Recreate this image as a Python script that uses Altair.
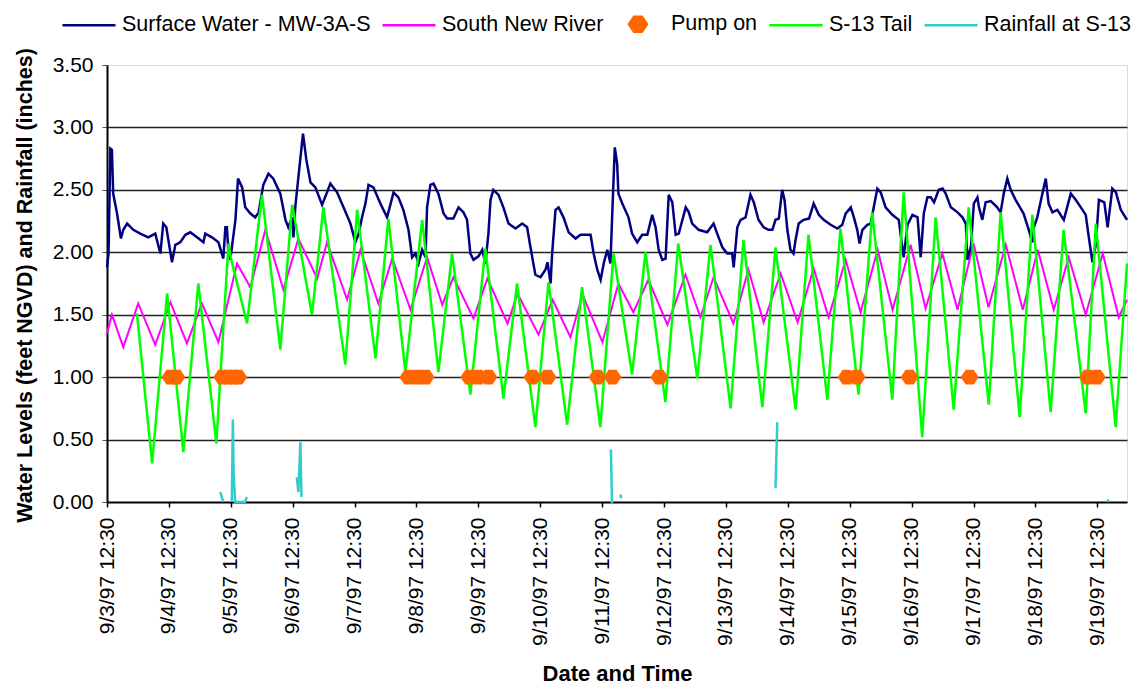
import altair as alt
import pandas as pd

START = pd.Timestamp("1997-09-03 12:30")

SERIES = ["Surface Water - MW-3A-S", "South New River", "Pump on", "S-13 Tail", "Rainfall at S-13"]
COLORS = ["#000080", "#FF00FF", "#FF6600", "#00FF00", "#33CCCC"]

# hours after 9/3/97 12:30
SW_H = [0.0, 0.6, 1.3, 1.9, 2.4, 3.9, 5.4, 6.3, 7.8, 10.2, 12.9, 16.0, 18.7, 20.7, 21.8, 23.0, 25.2, 26.5, 28.4,
        30.4, 32.3, 34.9, 37.4, 38.1, 40.7, 43.2, 45.1, 45.9, 46.5, 47.1, 47.8, 49.8, 50.8, 52.4, 53.6, 55.6, 57.5,
        58.8, 60.6, 62.6, 64.5, 67.2, 69.2, 70.3, 71.8, 72.3, 73.0, 74.2, 76.0, 77.3, 78.9, 80.8, 83.4, 85.3, 86.6,
        89.2, 91.7, 94.4, 96.3, 97.6, 98.9, 100.2, 101.4, 103.3, 106.0, 108.6, 111.1, 113.0, 114.9, 116.9, 118.3,
        119.6, 120.8, 122.2, 123.5, 124.1, 125.4, 126.6, 128.5, 130.5, 131.9, 134.3, 136.3, 138.2, 139.6, 140.9,
        142.1, 144.1, 145.5, 146.7, 147.9, 148.7, 149.8, 151.8, 153.7, 155.7, 158.4, 161.0, 162.9, 164.2, 166.1,
        168.1, 170.0, 170.8, 172.0, 172.6, 173.9, 175.1, 177.0, 179.0, 181.7, 183.6, 187.5, 188.7, 190.1, 191.4,
        192.7, 194.0, 195.2, 196.3, 196.9, 197.8, 198.3, 199.8, 202.2, 203.6, 205.6, 207.5, 209.5, 211.4, 212.7,
        213.9, 215.3, 216.6, 217.8, 219.2, 220.5, 221.7, 224.4, 225.6, 226.9, 229.4, 232.7, 235.2, 236.6, 238.6,
        240.5, 242.4, 243.0, 244.4, 245.7, 247.6, 249.5, 250.8, 252.6, 254.6, 256.5, 258.0, 259.2, 260.5, 261.8,
        262.7, 263.8, 265.0, 266.2, 267.0, 268.2, 270.1, 272.2, 274.0, 276.0, 277.9, 280.6, 283.2, 285.1, 286.4,
        288.4, 289.6, 290.9, 291.8, 292.9, 294.8, 296.1, 297.3, 298.7, 300.0, 301.9, 304.5, 307.0, 308.9, 310.4,
        312.3, 314.3, 315.5, 316.7, 318.1, 319.4, 320.7, 322.5, 324.0, 325.2, 327.2, 329.8, 331.7, 333.0, 333.6,
        335.0, 336.1, 337.5, 338.1, 339.4, 340.7, 342.7, 345.2, 346.5, 347.7, 349.1, 350.4, 352.3, 355.4, 357.4,
        358.8, 359.4, 360.7, 362.7, 364.0, 365.1, 366.6, 368.5, 371.0, 373.7, 375.6, 377.6, 379.5, 380.7, 382.1,
        383.4, 384.6, 386.7, 388.0, 389.8, 391.2, 393.1, 395.5]
SW_V = [1.88, 1.99, 2.83, 2.82, 2.47, 2.31, 2.11, 2.18, 2.23, 2.18, 2.15, 2.12, 2.15, 1.99, 2.23, 2.20, 1.92, 2.06, 2.08,
        2.14, 2.16, 2.12, 2.08, 2.15, 2.12, 2.08, 1.95, 2.20, 2.20, 1.99, 1.94, 2.26, 2.59, 2.52, 2.36, 2.31, 2.28,
        2.32, 2.54, 2.63, 2.59, 2.47, 2.26, 2.20, 2.28, 2.12, 2.36, 2.60, 2.95, 2.74, 2.56, 2.52, 2.38, 2.48, 2.55,
        2.48, 2.36, 2.23, 2.08, 2.15, 2.28, 2.39, 2.54, 2.52, 2.39, 2.28, 2.48, 2.44, 2.34, 2.18, 1.96,
        1.99, 1.91, 2.02, 1.96, 2.36, 2.54, 2.55, 2.47, 2.31, 2.27, 2.27, 2.36, 2.32, 2.26, 1.99,
        1.94, 1.97, 2.02, 1.91, 2.15, 2.42, 2.50, 2.46, 2.36, 2.23, 2.19, 2.23, 2.20, 2.04, 1.82,
        1.80, 1.86, 1.92, 1.75, 1.99, 2.34, 2.36, 2.28, 2.16, 2.11, 2.14, 2.14, 1.99, 1.86, 1.78,
        1.92, 2.02, 1.91, 2.52, 2.84, 2.71, 2.47, 2.39, 2.28, 2.15, 2.08, 2.14, 2.14, 2.30, 2.20,
        2.02, 1.94, 1.95, 2.46, 2.40, 2.14, 2.15, 2.36, 2.32, 2.23, 2.18, 2.16, 2.23, 2.15, 2.04,
        1.99, 1.99, 1.88, 2.20, 2.26, 2.28, 2.46, 2.40, 2.26, 2.20, 2.18, 2.18, 2.26, 2.27, 2.50,
        2.42, 2.18, 2.02, 1.99, 2.10, 2.23, 2.26, 2.27, 2.39, 2.30, 2.26, 2.22, 2.19, 2.22, 2.31,
        2.36, 2.28, 2.18, 2.07, 2.18, 2.22, 2.23, 2.36, 2.51, 2.48, 2.36, 2.30, 2.26, 1.96, 2.22,
        2.30, 2.28, 1.96, 2.31, 2.44, 2.44, 2.40, 2.50, 2.51, 2.47, 2.36, 2.32, 2.28, 2.23, 1.94,
        2.05, 2.39, 2.44, 2.36, 2.26, 2.40, 2.41, 2.36, 2.32, 2.47, 2.59, 2.50, 2.42, 2.31, 2.18,
        2.08, 2.20, 2.28, 2.47, 2.59, 2.39, 2.32, 2.34, 2.26, 2.47, 2.42, 2.36, 2.30, 2.12, 1.92,
        2.06, 2.42, 2.40, 2.20, 2.51, 2.48, 2.34, 2.26]

SNR_H = [0.0, 1.9, 6.3, 12.1, 18.7, 24.6, 31.0, 36.8, 43.2, 50.4, 55.6, 61.4, 68.4, 74.2, 81.5, 85.3, 93.1, 98.3,
         105.2, 110.6, 117.7, 124.1, 130.0, 134.3, 142.1, 147.5, 155.3, 159.2, 167.3, 172.8, 179.7, 184.4, 192.1,
         198.3, 204.1, 209.9, 217.3, 224.3, 230.1, 235.2, 242.9, 248.7, 254.6, 261.2, 267.8, 274.0, 279.8, 286.4,
         292.2, 298.8, 304.6, 311.6, 317.4, 323.9, 329.8, 336.0, 341.8, 348.5, 355.1, 360.9, 367.1, 372.9, 379.5,
         386.1, 392.3, 395.5]
SNR_V = [1.35, 1.50, 1.24, 1.59, 1.26, 1.60, 1.27, 1.59, 1.28, 1.91, 1.72, 2.18, 1.70, 2.11, 1.79, 2.08, 1.62, 2.02,
         1.59, 1.95, 1.54, 1.96, 1.58, 1.80, 1.47, 1.79, 1.43, 1.67, 1.34, 1.62, 1.32, 1.66, 1.28,
         1.75, 1.52, 1.78, 1.42, 1.82, 1.48, 1.80, 1.43, 1.86, 1.44, 1.83, 1.44, 1.87, 1.48, 1.94,
         1.52, 2.02, 1.54, 2.06, 1.55, 1.99, 1.54, 2.07, 1.56, 2.06, 1.54, 2.02, 1.54, 1.96, 1.50,
         1.99, 1.48, 1.62]

S13_H = [11.6, 17.5, 23.3, 29.6, 35.4, 42.4, 47.1, 48.2, 54.3, 60.1, 67.2, 71.8, 79.5, 83.9, 92.4, 97.0, 104.1,
         109.1, 115.7, 122.2, 128.5, 133.8, 140.9, 146.7, 153.7, 159.0, 166.1, 171.2, 178.4, 184.2, 191.3, 196.4,
         203.6, 208.8, 216.5, 221.5, 228.9, 234.0, 241.8, 246.8, 254.1, 259.2, 267.0, 272.0, 279.3, 284.4, 291.4,
         296.7, 304.5, 308.9, 316.1, 321.3, 328.3, 334.1, 341.9, 346.5, 353.9, 358.8, 365.9, 370.9, 379.5, 383.4,
         391.1, 395.5]
S13_V = [1.51, 0.31, 1.67, 0.40, 1.75, 0.47, 2.07, 1.94, 1.43, 2.46, 1.22, 2.38, 1.50, 2.36, 1.10, 2.34, 1.15,
         2.27, 1.04, 2.26, 1.04, 1.99, 0.86, 2.03, 0.83, 1.75, 0.60, 1.76, 0.62, 1.72, 0.60, 1.99,
         1.02, 2.00, 0.80, 2.07, 0.99, 2.06, 0.75, 2.10, 0.76, 2.04, 0.74, 2.14, 0.82, 2.19, 0.86,
         2.32, 0.82, 2.48, 0.52, 2.28, 0.74, 2.36, 0.78, 2.32, 0.68, 2.30, 0.72, 2.18, 0.71, 2.23,
         0.60, 1.91]

PUMP_H = [24.6, 26.9, 44.7, 47.1, 49.0, 50.9, 116.9, 120.4, 123.5, 140.5, 144.0, 147.9, 165.0, 170.8, 190.2,
          196.0, 214.2, 286.8, 290.7, 311.2, 334.5, 380.3, 383.8]
PUMP_V = [1.0] * len(PUMP_H)

RAIN_H = [43.9, 45.1, 48.4, 48.8, 49.1, 49.7, 53.5, 54.2, 73.6, 74.2, 75.0, 75.4, 195.4, 195.8, 196.4, 199.1,
          199.3, 259.2, 259.9, 387.9, 388.4]
RAIN_V = [0.08, 0.00, 0.00, 0.66, 0.23, 0.00, 0.00, 0.04, 0.20, 0.08, 0.48, 0.04, 0.42, 0.00, 0.01, 0.06,
          0.03, 0.11, 0.64, 0.02, 0.00]
RAIN_SEG = [1, 1, 2, 2, 2, 2, 2, 2, 3, 3, 3, 3, 4, 4, 4, 5, 5, 6, 6, 7, 7]

TICK_DAYS = [3, 4, 5, 6, 7, 8, 9, 10, 11, 12, 13, 14, 15, 16, 17, 18, 19]


def frame(hours, values, name, seg=None):
    df = pd.DataFrame({"t": [START + pd.Timedelta(hours=h) for h in hours], "v": values})
    df["series"] = name
    df["seg"] = seg if seg is not None else [0] * len(hours)
    return df


FONT = "Liberation Sans"
# small hexagonal diamond inside a 53px symbol box
DIAMOND = "M-0.34,0L-0.15,-0.28L0.15,-0.28L0.34,0L0.15,0.28L-0.15,0.28Z"
SHAPES = ["stroke", "stroke", DIAMOND, "stroke", "stroke"]


def make_legend():
    return alt.Legend(
        orient="none", legendX=-46, legendY=-69, direction="horizontal", title=None,
        symbolSize=2809, symbolStrokeWidth=2.5, symbolOpacity=1,
        labelFont=FONT, labelFontSize=21.5, labelColor="black", labelOffset=5, labelLimit=0,
        columnPadding=6,
    )


color = alt.Color("series:N", scale=alt.Scale(domain=SERIES, range=COLORS), legend=make_legend())
shape = alt.Shape("series:N", scale=alt.Scale(domain=SERIES, range=SHAPES), legend=make_legend())

x = alt.X(
    "t:T",
    scale=alt.Scale(domain=[alt.DateTime(year=1997, month=9, date=3, hours=12, minutes=30),
                            alt.DateTime(year=1997, month=9, date=20, hours=0, minutes=0)]),
    axis=alt.Axis(
        values=[alt.DateTime(year=1997, month=9, date=d, hours=12, minutes=30) for d in TICK_DAYS],
        format="%-m/%-d/%y %H:%M", labelAngle=270, labelFont=FONT, labelFontSize=21, labelColor="black",
        labelPadding=10, labelOverlap=False, labelFlush=False,
        tickColor="black", tickSize=5, tickWidth=1.5, domainColor="black", domainWidth=2, grid=False,
        title="Date and Time", titleFont=FONT, titleFontSize=22, titleFontWeight="bold", titleColor="black",
        titleX=510, titleY=171, titleAlign="center", titleBaseline="middle",
    ),
)

y = alt.Y(
    "v:Q",
    scale=alt.Scale(domain=[0, 3.5], nice=False, zero=True),
    axis=alt.Axis(
        values=[0, 0.5, 1.0, 1.5, 2.0, 2.5, 3.0, 3.5], format=".2f",
        labelFont=FONT, labelFontSize=21, labelColor="black", labelPadding=9,
        tickColor="#555555", tickSize=5, tickWidth=1, domainColor="black", domainWidth=2,
        grid=True, gridWidth=1.5,
        gridColor={"condition": {"test": "datum.value >= 3.5 || datum.value <= 0", "value": "transparent"},
                   "value": "#222222"},
        title="Water Levels (feet NGVD) and Rainfall (inches)", titleFont=FONT, titleFontSize=21.5,
        titleFontWeight="bold", titleColor="black", titleAngle=270, titleX=-82, titleY=220,
        titleAlign="center", titleBaseline="middle",
    ),
)

snr = alt.Chart(frame(SNR_H, SNR_V, SERIES[1])).mark_line(strokeWidth=2).encode(x=x, y=y, color=color)
sw = alt.Chart(frame(SW_H, SW_V, SERIES[0])).mark_line(strokeWidth=2.5).encode(x=x, y=y, color=color)
s13 = alt.Chart(frame(S13_H, S13_V, SERIES[3])).mark_line(strokeWidth=2.5).encode(x=x, y=y, color=color)
rain = alt.Chart(frame(RAIN_H, RAIN_V, SERIES[4], RAIN_SEG)).mark_line(strokeWidth=2.5).encode(
    x=x, y=y, color=color, detail="seg:N")
pump = alt.Chart(frame(PUMP_H, PUMP_V, SERIES[2])).mark_point(
    filled=True, size=2809, opacity=1, strokeWidth=0).encode(x=x, y=y, color=color, shape=shape)

chart = alt.layer(snr, sw, s13, rain, pump).properties(
    width=1020, height=437,
    autosize=alt.AutoSizeParams(type="none"),
    padding={"left": 107, "top": 65, "right": 12, "bottom": 184},
    background="white",
).configure_view(stroke="#808080", strokeWidth=2).configure(font=FONT)

chart.save("out.html", embed_options={"renderer": "svg", "actions": False})
